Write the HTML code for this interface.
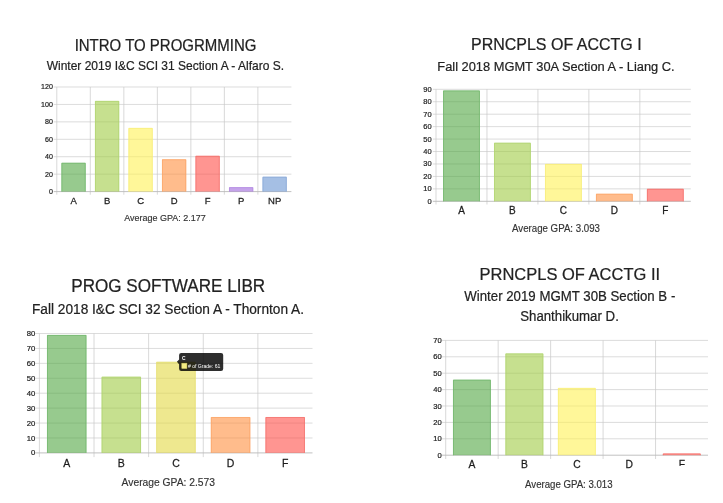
<!DOCTYPE html>
<html lang="en"><head><meta charset="utf-8"><title>Grade Distributions</title>
<style>html,body{margin:0;padding:0;background:#fff}body{width:723px;height:503px;overflow:hidden}svg{display:block}text{font-family:"Liberation Sans", Arial, Helvetica, sans-serif}</style></head><body>
<svg width="723" height="503" viewBox="0 0 723 503">
<rect width="723" height="503" fill="#ffffff"/>
<g>
<line x1="53.70" y1="174.17" x2="291.40" y2="174.17" stroke="#cdcdcd" stroke-width="0.7"/>
<line x1="53.70" y1="156.73" x2="291.40" y2="156.73" stroke="#cdcdcd" stroke-width="0.7"/>
<line x1="53.70" y1="139.30" x2="291.40" y2="139.30" stroke="#cdcdcd" stroke-width="0.7"/>
<line x1="53.70" y1="121.87" x2="291.40" y2="121.87" stroke="#cdcdcd" stroke-width="0.7"/>
<line x1="53.70" y1="104.43" x2="291.40" y2="104.43" stroke="#cdcdcd" stroke-width="0.7"/>
<line x1="53.70" y1="87.00" x2="291.40" y2="87.00" stroke="#cdcdcd" stroke-width="0.7"/>
<line x1="90.31" y1="87.00" x2="90.31" y2="194.70" stroke="#c8c8c8" stroke-width="0.7"/>
<line x1="123.83" y1="87.00" x2="123.83" y2="194.70" stroke="#c8c8c8" stroke-width="0.7"/>
<line x1="157.34" y1="87.00" x2="157.34" y2="194.70" stroke="#c8c8c8" stroke-width="0.7"/>
<line x1="190.86" y1="87.00" x2="190.86" y2="194.70" stroke="#c8c8c8" stroke-width="0.7"/>
<line x1="224.37" y1="87.00" x2="224.37" y2="194.70" stroke="#c8c8c8" stroke-width="0.7"/>
<line x1="257.89" y1="87.00" x2="257.89" y2="194.70" stroke="#c8c8c8" stroke-width="0.7"/>
<line x1="56.80" y1="87.00" x2="56.80" y2="194.70" stroke="#c8c8c8" stroke-width="0.7"/>
<line x1="53.70" y1="191.60" x2="291.40" y2="191.60" stroke="#bababa" stroke-width="0.9"/>
<rect x="61.49" y="162.84" width="24.13" height="28.76" fill="#52a743" fill-opacity="0.6"/>
<path d="M61.89 191.60 V163.24 H85.22 V191.60" fill="none" stroke="#74b86e" stroke-width="0.80"/>
<text transform="translate(73.56 203.50) scale(1 1.05)" font-size="9.50" text-anchor="middle" fill="#1c1c1c" stroke="#1c1c1c" stroke-width="0.24">A</text>
<rect x="95.01" y="100.95" width="24.13" height="90.65" fill="#a0cb44" fill-opacity="0.6"/>
<path d="M95.41 191.60 V101.35 H118.74 V191.60" fill="none" stroke="#b1d472" stroke-width="0.80"/>
<text transform="translate(107.07 203.50) scale(1 1.05)" font-size="9.50" text-anchor="middle" fill="#1c1c1c" stroke="#1c1c1c" stroke-width="0.24">B</text>
<rect x="128.52" y="127.97" width="24.13" height="63.63" fill="#fff255" fill-opacity="0.6"/>
<path d="M128.92 191.60 V128.37 H152.25 V191.60" fill="none" stroke="#f7ee7c" stroke-width="0.80"/>
<text transform="translate(140.59 203.50) scale(1 1.05)" font-size="9.50" text-anchor="middle" fill="#1c1c1c" stroke="#1c1c1c" stroke-width="0.24">C</text>
<rect x="162.03" y="159.35" width="24.13" height="32.25" fill="#ff8f3f" fill-opacity="0.6"/>
<path d="M162.43 191.60 V159.75 H185.77 V191.60" fill="none" stroke="#fba669" stroke-width="0.80"/>
<text transform="translate(174.10 203.50) scale(1 1.05)" font-size="9.50" text-anchor="middle" fill="#1c1c1c" stroke="#1c1c1c" stroke-width="0.24">D</text>
<rect x="195.55" y="155.86" width="24.13" height="35.74" fill="#ff4e48" fill-opacity="0.6"/>
<path d="M195.95 191.60 V156.26 H219.28 V191.60" fill="none" stroke="#f47470" stroke-width="0.80"/>
<text transform="translate(207.61 203.50) scale(1 1.05)" font-size="9.50" text-anchor="middle" fill="#1c1c1c" stroke="#1c1c1c" stroke-width="0.24">F</text>
<rect x="229.06" y="187.24" width="24.13" height="4.36" fill="#9e66dc" fill-opacity="0.6"/>
<path d="M229.46 191.60 V187.64 H252.79 V191.60" fill="none" stroke="#b48be2" stroke-width="0.80"/>
<text transform="translate(241.13 203.50) scale(1 1.05)" font-size="9.50" text-anchor="middle" fill="#1c1c1c" stroke="#1c1c1c" stroke-width="0.24">P</text>
<rect x="262.58" y="176.78" width="24.13" height="14.82" fill="#6994d2" fill-opacity="0.6"/>
<path d="M262.98 191.60 V177.18 H286.31 V191.60" fill="none" stroke="#8aa9d8" stroke-width="0.80"/>
<text transform="translate(274.64 203.50) scale(1 1.05)" font-size="9.50" text-anchor="middle" fill="#1c1c1c" stroke="#1c1c1c" stroke-width="0.24">NP</text>
<text transform="translate(52.90 193.96) scale(1 1.05)" font-size="7.10" text-anchor="end" fill="#1c1c1c" stroke="#1c1c1c" stroke-width="0.2">0</text>
<text transform="translate(52.90 176.53) scale(1 1.05)" font-size="7.10" text-anchor="end" fill="#1c1c1c" stroke="#1c1c1c" stroke-width="0.2">20</text>
<text transform="translate(52.90 159.10) scale(1 1.05)" font-size="7.10" text-anchor="end" fill="#1c1c1c" stroke="#1c1c1c" stroke-width="0.2">40</text>
<text transform="translate(52.90 141.66) scale(1 1.05)" font-size="7.10" text-anchor="end" fill="#1c1c1c" stroke="#1c1c1c" stroke-width="0.2">60</text>
<text transform="translate(52.90 124.23) scale(1 1.05)" font-size="7.10" text-anchor="end" fill="#1c1c1c" stroke="#1c1c1c" stroke-width="0.2">80</text>
<text transform="translate(52.90 106.80) scale(1 1.05)" font-size="7.10" text-anchor="end" fill="#1c1c1c" stroke="#1c1c1c" stroke-width="0.2">100</text>
<text transform="translate(52.90 89.36) scale(1 1.05)" font-size="7.10" text-anchor="end" fill="#1c1c1c" stroke="#1c1c1c" stroke-width="0.2">120</text>
<text transform="translate(165.50 51.00) scale(1 1.05)" font-size="15.00" text-anchor="middle" fill="#222" stroke="#222" stroke-width="0.22">INTRO TO PROGRMMING</text>
<text transform="translate(165.30 69.90) scale(1 1.05)" font-size="12.00" text-anchor="middle" fill="#222" stroke="#222" stroke-width="0.2">Winter 2019 I&amp;C SCI 31 Section A - Alfaro S.</text>
<text transform="translate(165.00 220.80) scale(1 1.05)" font-size="9.00" text-anchor="middle" fill="#333" stroke="#333" stroke-width="0.15">Average GPA: 2.177</text>
</g>
<g>
<line x1="432.80" y1="188.86" x2="690.80" y2="188.86" stroke="#cdcdcd" stroke-width="0.7"/>
<line x1="432.80" y1="176.41" x2="690.80" y2="176.41" stroke="#cdcdcd" stroke-width="0.7"/>
<line x1="432.80" y1="163.97" x2="690.80" y2="163.97" stroke="#cdcdcd" stroke-width="0.7"/>
<line x1="432.80" y1="151.52" x2="690.80" y2="151.52" stroke="#cdcdcd" stroke-width="0.7"/>
<line x1="432.80" y1="139.08" x2="690.80" y2="139.08" stroke="#cdcdcd" stroke-width="0.7"/>
<line x1="432.80" y1="126.63" x2="690.80" y2="126.63" stroke="#cdcdcd" stroke-width="0.7"/>
<line x1="432.80" y1="114.19" x2="690.80" y2="114.19" stroke="#cdcdcd" stroke-width="0.7"/>
<line x1="432.80" y1="101.74" x2="690.80" y2="101.74" stroke="#cdcdcd" stroke-width="0.7"/>
<line x1="432.80" y1="89.30" x2="690.80" y2="89.30" stroke="#cdcdcd" stroke-width="0.7"/>
<line x1="486.96" y1="89.30" x2="486.96" y2="204.50" stroke="#c8c8c8" stroke-width="0.7"/>
<line x1="537.92" y1="89.30" x2="537.92" y2="204.50" stroke="#c8c8c8" stroke-width="0.7"/>
<line x1="588.88" y1="89.30" x2="588.88" y2="204.50" stroke="#c8c8c8" stroke-width="0.7"/>
<line x1="639.84" y1="89.30" x2="639.84" y2="204.50" stroke="#c8c8c8" stroke-width="0.7"/>
<line x1="436.00" y1="89.30" x2="436.00" y2="204.50" stroke="#c8c8c8" stroke-width="0.7"/>
<line x1="432.80" y1="201.30" x2="690.80" y2="201.30" stroke="#bababa" stroke-width="0.9"/>
<rect x="443.13" y="90.54" width="36.69" height="110.76" fill="#52a743" fill-opacity="0.6"/>
<path d="M443.53 201.30 V90.94 H479.43 V201.30" fill="none" stroke="#74b86e" stroke-width="0.80"/>
<text transform="translate(461.48 213.80) scale(1 1.05)" font-size="10.00" text-anchor="middle" fill="#1c1c1c" stroke="#1c1c1c" stroke-width="0.24">A</text>
<rect x="494.09" y="142.81" width="36.69" height="58.49" fill="#a0cb44" fill-opacity="0.6"/>
<path d="M494.49 201.30 V143.21 H530.39 V201.30" fill="none" stroke="#b1d472" stroke-width="0.80"/>
<text transform="translate(512.44 213.80) scale(1 1.05)" font-size="10.00" text-anchor="middle" fill="#1c1c1c" stroke="#1c1c1c" stroke-width="0.24">B</text>
<rect x="545.05" y="163.97" width="36.69" height="37.33" fill="#fff255" fill-opacity="0.6"/>
<path d="M545.45 201.30 V164.37 H581.35 V201.30" fill="none" stroke="#f7ee7c" stroke-width="0.80"/>
<text transform="translate(563.40 213.80) scale(1 1.05)" font-size="10.00" text-anchor="middle" fill="#1c1c1c" stroke="#1c1c1c" stroke-width="0.24">C</text>
<rect x="596.01" y="193.83" width="36.69" height="7.47" fill="#ff8f3f" fill-opacity="0.6"/>
<path d="M596.41 201.30 V194.23 H632.31 V201.30" fill="none" stroke="#fba669" stroke-width="0.80"/>
<text transform="translate(614.36 213.80) scale(1 1.05)" font-size="10.00" text-anchor="middle" fill="#1c1c1c" stroke="#1c1c1c" stroke-width="0.24">D</text>
<rect x="646.97" y="188.86" width="36.69" height="12.44" fill="#ff4e48" fill-opacity="0.6"/>
<path d="M647.37 201.30 V189.26 H683.27 V201.30" fill="none" stroke="#f47470" stroke-width="0.80"/>
<text transform="translate(665.32 213.80) scale(1 1.05)" font-size="10.00" text-anchor="middle" fill="#1c1c1c" stroke="#1c1c1c" stroke-width="0.24">F</text>
<text transform="translate(431.60 203.81) scale(1 1.05)" font-size="7.50" text-anchor="end" fill="#1c1c1c" stroke="#1c1c1c" stroke-width="0.2">0</text>
<text transform="translate(431.60 191.37) scale(1 1.05)" font-size="7.50" text-anchor="end" fill="#1c1c1c" stroke="#1c1c1c" stroke-width="0.2">10</text>
<text transform="translate(431.60 178.92) scale(1 1.05)" font-size="7.50" text-anchor="end" fill="#1c1c1c" stroke="#1c1c1c" stroke-width="0.2">20</text>
<text transform="translate(431.60 166.48) scale(1 1.05)" font-size="7.50" text-anchor="end" fill="#1c1c1c" stroke="#1c1c1c" stroke-width="0.2">30</text>
<text transform="translate(431.60 154.03) scale(1 1.05)" font-size="7.50" text-anchor="end" fill="#1c1c1c" stroke="#1c1c1c" stroke-width="0.2">40</text>
<text transform="translate(431.60 141.59) scale(1 1.05)" font-size="7.50" text-anchor="end" fill="#1c1c1c" stroke="#1c1c1c" stroke-width="0.2">50</text>
<text transform="translate(431.60 129.15) scale(1 1.05)" font-size="7.50" text-anchor="end" fill="#1c1c1c" stroke="#1c1c1c" stroke-width="0.2">60</text>
<text transform="translate(431.60 116.70) scale(1 1.05)" font-size="7.50" text-anchor="end" fill="#1c1c1c" stroke="#1c1c1c" stroke-width="0.2">70</text>
<text transform="translate(431.60 104.26) scale(1 1.05)" font-size="7.50" text-anchor="end" fill="#1c1c1c" stroke="#1c1c1c" stroke-width="0.2">80</text>
<text transform="translate(431.60 91.81) scale(1 1.05)" font-size="7.50" text-anchor="end" fill="#1c1c1c" stroke="#1c1c1c" stroke-width="0.2">90</text>
<text transform="translate(556.30 50.10) scale(1 1.05)" font-size="16.00" text-anchor="middle" fill="#222" stroke="#222" stroke-width="0.22">PRNCPLS OF ACCTG I</text>
<text transform="translate(556.00 70.50) scale(1 1.05)" font-size="12.85" text-anchor="middle" fill="#222" stroke="#222" stroke-width="0.2">Fall 2018 MGMT 30A Section A - Liang C.</text>
<text transform="translate(556.00 232.00) scale(1 1.05)" font-size="9.70" text-anchor="middle" fill="#333" stroke="#333" stroke-width="0.15">Average GPA: 3.093</text>
</g>
<g>
<line x1="35.20" y1="437.97" x2="312.50" y2="437.97" stroke="#cdcdcd" stroke-width="0.7"/>
<line x1="35.20" y1="423.05" x2="312.50" y2="423.05" stroke="#cdcdcd" stroke-width="0.7"/>
<line x1="35.20" y1="408.12" x2="312.50" y2="408.12" stroke="#cdcdcd" stroke-width="0.7"/>
<line x1="35.20" y1="393.20" x2="312.50" y2="393.20" stroke="#cdcdcd" stroke-width="0.7"/>
<line x1="35.20" y1="378.27" x2="312.50" y2="378.27" stroke="#cdcdcd" stroke-width="0.7"/>
<line x1="35.20" y1="363.35" x2="312.50" y2="363.35" stroke="#cdcdcd" stroke-width="0.7"/>
<line x1="35.20" y1="348.43" x2="312.50" y2="348.43" stroke="#cdcdcd" stroke-width="0.7"/>
<line x1="35.20" y1="333.50" x2="312.50" y2="333.50" stroke="#cdcdcd" stroke-width="0.7"/>
<line x1="94.02" y1="333.50" x2="94.02" y2="457.10" stroke="#c8c8c8" stroke-width="0.7"/>
<line x1="148.64" y1="333.50" x2="148.64" y2="457.10" stroke="#c8c8c8" stroke-width="0.7"/>
<line x1="203.26" y1="333.50" x2="203.26" y2="457.10" stroke="#c8c8c8" stroke-width="0.7"/>
<line x1="257.88" y1="333.50" x2="257.88" y2="457.10" stroke="#c8c8c8" stroke-width="0.7"/>
<line x1="39.40" y1="333.50" x2="39.40" y2="457.10" stroke="#c8c8c8" stroke-width="0.7"/>
<line x1="35.20" y1="452.90" x2="312.50" y2="452.90" stroke="#bababa" stroke-width="0.9"/>
<rect x="47.05" y="334.99" width="39.33" height="117.91" fill="#52a743" fill-opacity="0.6"/>
<path d="M47.45 452.90 V335.39 H85.97 V452.90" fill="none" stroke="#74b86e" stroke-width="0.80"/>
<text transform="translate(66.71 466.60) scale(1 1.05)" font-size="10.50" text-anchor="middle" fill="#1c1c1c" stroke="#1c1c1c" stroke-width="0.24">A</text>
<rect x="101.67" y="376.78" width="39.33" height="76.12" fill="#a0cb44" fill-opacity="0.6"/>
<path d="M102.07 452.90 V377.18 H140.59 V452.90" fill="none" stroke="#b1d472" stroke-width="0.80"/>
<text transform="translate(121.33 466.60) scale(1 1.05)" font-size="10.50" text-anchor="middle" fill="#1c1c1c" stroke="#1c1c1c" stroke-width="0.24">B</text>
<rect x="156.29" y="361.86" width="39.33" height="91.04" fill="#e3d944" fill-opacity="0.6"/>
<path d="M156.69 452.90 V362.26 H195.21 V452.90" fill="none" stroke="#e6df78" stroke-width="0.80"/>
<text transform="translate(175.95 466.60) scale(1 1.05)" font-size="10.50" text-anchor="middle" fill="#1c1c1c" stroke="#1c1c1c" stroke-width="0.24">C</text>
<rect x="210.91" y="417.08" width="39.33" height="35.82" fill="#ff8f3f" fill-opacity="0.6"/>
<path d="M211.31 452.90 V417.48 H249.83 V452.90" fill="none" stroke="#fba669" stroke-width="0.80"/>
<text transform="translate(230.57 466.60) scale(1 1.05)" font-size="10.50" text-anchor="middle" fill="#1c1c1c" stroke="#1c1c1c" stroke-width="0.24">D</text>
<rect x="265.53" y="417.08" width="39.33" height="35.82" fill="#ff4e48" fill-opacity="0.6"/>
<path d="M265.93 452.90 V417.48 H304.45 V452.90" fill="none" stroke="#f47470" stroke-width="0.80"/>
<text transform="translate(285.19 466.60) scale(1 1.05)" font-size="10.50" text-anchor="middle" fill="#1c1c1c" stroke="#1c1c1c" stroke-width="0.24">F</text>
<text transform="translate(35.40 455.49) scale(1 1.05)" font-size="7.70" text-anchor="end" fill="#1c1c1c" stroke="#1c1c1c" stroke-width="0.2">0</text>
<text transform="translate(35.40 440.56) scale(1 1.05)" font-size="7.70" text-anchor="end" fill="#1c1c1c" stroke="#1c1c1c" stroke-width="0.2">10</text>
<text transform="translate(35.40 425.64) scale(1 1.05)" font-size="7.70" text-anchor="end" fill="#1c1c1c" stroke="#1c1c1c" stroke-width="0.2">20</text>
<text transform="translate(35.40 410.71) scale(1 1.05)" font-size="7.70" text-anchor="end" fill="#1c1c1c" stroke="#1c1c1c" stroke-width="0.2">30</text>
<text transform="translate(35.40 395.79) scale(1 1.05)" font-size="7.70" text-anchor="end" fill="#1c1c1c" stroke="#1c1c1c" stroke-width="0.2">40</text>
<text transform="translate(35.40 380.86) scale(1 1.05)" font-size="7.70" text-anchor="end" fill="#1c1c1c" stroke="#1c1c1c" stroke-width="0.2">50</text>
<text transform="translate(35.40 365.94) scale(1 1.05)" font-size="7.70" text-anchor="end" fill="#1c1c1c" stroke="#1c1c1c" stroke-width="0.2">60</text>
<text transform="translate(35.40 351.01) scale(1 1.05)" font-size="7.70" text-anchor="end" fill="#1c1c1c" stroke="#1c1c1c" stroke-width="0.2">70</text>
<text transform="translate(35.40 336.09) scale(1 1.05)" font-size="7.70" text-anchor="end" fill="#1c1c1c" stroke="#1c1c1c" stroke-width="0.2">80</text>
<text transform="translate(168.20 292.40) scale(1 1.05)" font-size="17.10" text-anchor="middle" fill="#222" stroke="#222" stroke-width="0.22">PROG SOFTWARE LIBR</text>
<text transform="translate(168.00 314.00) scale(1 1.05)" font-size="13.70" text-anchor="middle" fill="#222" stroke="#222" stroke-width="0.2">Fall 2018 I&amp;C SCI 32 Section A - Thornton A.</text>
<text transform="translate(168.30 485.80) scale(1 1.05)" font-size="10.30" text-anchor="middle" fill="#333" stroke="#333" stroke-width="0.15">Average GPA: 2.573</text>
</g>
<g>
<line x1="441.90" y1="438.80" x2="708.00" y2="438.80" stroke="#cdcdcd" stroke-width="0.7"/>
<line x1="441.90" y1="422.40" x2="708.00" y2="422.40" stroke="#cdcdcd" stroke-width="0.7"/>
<line x1="441.90" y1="406.00" x2="708.00" y2="406.00" stroke="#cdcdcd" stroke-width="0.7"/>
<line x1="441.90" y1="389.60" x2="708.00" y2="389.60" stroke="#cdcdcd" stroke-width="0.7"/>
<line x1="441.90" y1="373.20" x2="708.00" y2="373.20" stroke="#cdcdcd" stroke-width="0.7"/>
<line x1="441.90" y1="356.80" x2="708.00" y2="356.80" stroke="#cdcdcd" stroke-width="0.7"/>
<line x1="441.90" y1="340.40" x2="708.00" y2="340.40" stroke="#cdcdcd" stroke-width="0.7"/>
<line x1="498.16" y1="340.40" x2="498.16" y2="459.00" stroke="#c8c8c8" stroke-width="0.7"/>
<line x1="550.62" y1="340.40" x2="550.62" y2="459.00" stroke="#c8c8c8" stroke-width="0.7"/>
<line x1="603.08" y1="340.40" x2="603.08" y2="459.00" stroke="#c8c8c8" stroke-width="0.7"/>
<line x1="655.54" y1="340.40" x2="655.54" y2="459.00" stroke="#c8c8c8" stroke-width="0.7"/>
<line x1="445.70" y1="340.40" x2="445.70" y2="459.00" stroke="#c8c8c8" stroke-width="0.7"/>
<line x1="441.90" y1="455.20" x2="708.00" y2="455.20" stroke="#bababa" stroke-width="0.9"/>
<rect x="453.04" y="379.76" width="37.77" height="75.44" fill="#52a743" fill-opacity="0.6"/>
<path d="M453.44 455.20 V380.16 H490.42 V455.20" fill="none" stroke="#74b86e" stroke-width="0.80"/>
<text transform="translate(471.93 468.20) scale(1 1.05)" font-size="10.30" text-anchor="middle" fill="#1c1c1c" stroke="#1c1c1c" stroke-width="0.24">A</text>
<rect x="505.50" y="353.52" width="37.77" height="101.68" fill="#a0cb44" fill-opacity="0.6"/>
<path d="M505.90 455.20 V353.92 H542.88 V455.20" fill="none" stroke="#b1d472" stroke-width="0.80"/>
<text transform="translate(524.39 468.20) scale(1 1.05)" font-size="10.30" text-anchor="middle" fill="#1c1c1c" stroke="#1c1c1c" stroke-width="0.24">B</text>
<rect x="557.96" y="387.96" width="37.77" height="67.24" fill="#fff255" fill-opacity="0.6"/>
<path d="M558.36 455.20 V388.36 H595.34 V455.20" fill="none" stroke="#f7ee7c" stroke-width="0.80"/>
<text transform="translate(576.85 468.20) scale(1 1.05)" font-size="10.30" text-anchor="middle" fill="#1c1c1c" stroke="#1c1c1c" stroke-width="0.24">C</text>
<text transform="translate(629.31 468.20) scale(1 1.05)" font-size="10.30" text-anchor="middle" fill="#1c1c1c" stroke="#1c1c1c" stroke-width="0.24">D</text>
<rect x="662.88" y="453.56" width="37.77" height="1.64" fill="#ff4e48" fill-opacity="0.6"/>
<path d="M663.28 455.20 V453.96 H700.26 V455.20" fill="none" stroke="#f47470" stroke-width="0.80"/>
<text transform="translate(681.77 468.20) scale(1 1.05)" font-size="10.30" text-anchor="middle" fill="#1c1c1c" stroke="#1c1c1c" stroke-width="0.24">F</text>
<text transform="translate(441.60 457.75) scale(1 1.05)" font-size="7.60" text-anchor="end" fill="#1c1c1c" stroke="#1c1c1c" stroke-width="0.2">0</text>
<text transform="translate(441.60 441.35) scale(1 1.05)" font-size="7.60" text-anchor="end" fill="#1c1c1c" stroke="#1c1c1c" stroke-width="0.2">10</text>
<text transform="translate(441.60 424.95) scale(1 1.05)" font-size="7.60" text-anchor="end" fill="#1c1c1c" stroke="#1c1c1c" stroke-width="0.2">20</text>
<text transform="translate(441.60 408.55) scale(1 1.05)" font-size="7.60" text-anchor="end" fill="#1c1c1c" stroke="#1c1c1c" stroke-width="0.2">30</text>
<text transform="translate(441.60 392.15) scale(1 1.05)" font-size="7.60" text-anchor="end" fill="#1c1c1c" stroke="#1c1c1c" stroke-width="0.2">40</text>
<text transform="translate(441.60 375.75) scale(1 1.05)" font-size="7.60" text-anchor="end" fill="#1c1c1c" stroke="#1c1c1c" stroke-width="0.2">50</text>
<text transform="translate(441.60 359.35) scale(1 1.05)" font-size="7.60" text-anchor="end" fill="#1c1c1c" stroke="#1c1c1c" stroke-width="0.2">60</text>
<text transform="translate(441.60 342.95) scale(1 1.05)" font-size="7.60" text-anchor="end" fill="#1c1c1c" stroke="#1c1c1c" stroke-width="0.2">70</text>
<text transform="translate(569.80 280.40) scale(1 1.05)" font-size="16.50" text-anchor="middle" fill="#222" stroke="#222" stroke-width="0.22">PRNCPLS OF ACCTG II</text>
<text transform="translate(569.80 301.20) scale(1 1.05)" font-size="13.25" text-anchor="middle" fill="#222" stroke="#222" stroke-width="0.2">Winter 2019 MGMT 30B Section B -</text>
<text transform="translate(569.50 320.90) scale(1 1.05)" font-size="13.25" text-anchor="middle" fill="#222" stroke="#222" stroke-width="0.2">Shanthikumar D.</text>
<text transform="translate(568.80 487.50) scale(1 1.05)" font-size="9.65" text-anchor="middle" fill="#333" stroke="#333" stroke-width="0.15">Average GPA: 3.013</text>
</g>
<g>
<path d="M179.1 359.4 L176.9 361.8 L179.1 364.2 V368.8 Q179.1 371 181.3 371 H221 Q223.2 371 223.2 368.8 V355.1 Q223.2 352.9 221 352.9 H181.3 Q179.1 352.9 179.1 355.1 Z" fill="#000000" fill-opacity="0.82"/>
<text transform="translate(181.9 359.9) scale(1 1.05)" font-size="4.9" font-weight="bold" fill="#ffffff">C</text>
<rect x="181.8" y="363.2" width="5.1" height="5.3" fill="#f3ec84" stroke="#d9d26a" stroke-width="0.5"/>
<text transform="translate(187.9 367.7) scale(1 1.05)" font-size="5.1" fill="#ffffff"># of Grade: 61</text>
</g>
<rect x="650" y="465.9" width="73" height="6.5" fill="#ffffff"/>
</svg></body></html>
